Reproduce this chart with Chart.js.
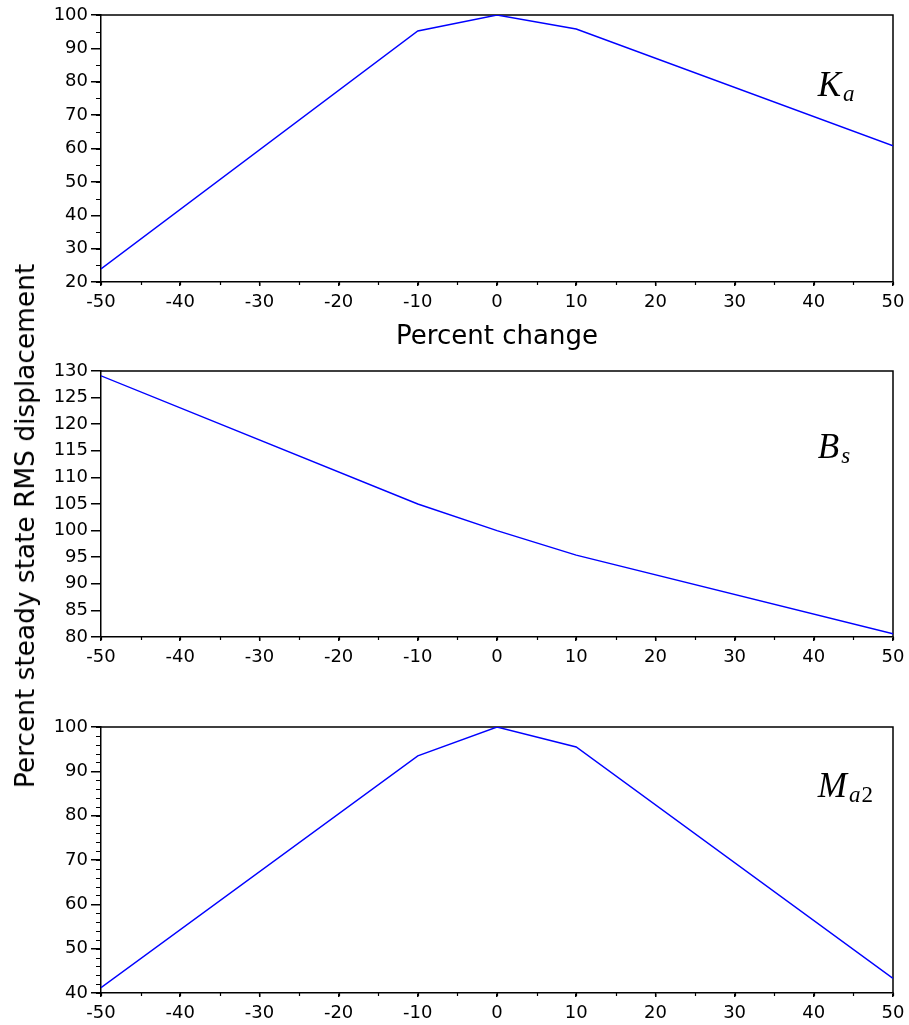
<!DOCTYPE html>
<html>
<head>
<meta charset="utf-8">
<script src="https://cdn.jsdelivr.net/npm/chart.js@4.4.1/dist/chart.umd.min.js"></script>
<style>
  html, body { margin: 0; padding: 0; background: #fff; }
  #wrap { position: relative; width: 909px; height: 1025px; }
  #wrap canvas { position: absolute; left: 0; }
  #ylabel {
    position: absolute; left: 24.5px; top: 526px;
    transform: translate(-50%, -50%) rotate(-90deg);
    font-family: 'DejaVu Sans'; font-size: 26.4px; line-height: 26px;
    white-space: nowrap; color: #000;
  }
</style>
</head>
<body>
<div id="wrap">
  <canvas id="c1" width="909" height="354" style="top:0px"></canvas>
  <canvas id="c2" width="909" height="340" style="top:350px"></canvas>
  <canvas id="c3" width="909" height="335" style="top:690px"></canvas>
  <div id="ylabel">Percent steady state RMS displacement</div>
</div>
<script>
// valores (percentual de variação do parâmetro)
const percentChange = [-50, -10, 0, 10, 50];
const kaValues  = [23.9, 95.2, 100, 95.8, 60.8];
const bsValues  = [129.1, 105.0, 100, 95.4, 80.6];
const ma2Values = [41.2, 93.5, 100, 95.5, 43.3];

const xTitle = 'Percent change';

const tickFont = { family: 'DejaVu Sans', size: 18 };

// moldura (topo e direita) + ticks menores
const frameAndMinor = {
  id: 'frameAndMinor',
  beforeDatasetsDraw(chart, args, opts) {
    const { ctx, chartArea, scales } = chart;
    ctx.save();
    ctx.strokeStyle = '#000';
    ctx.lineWidth = 1.5;
    ctx.beginPath();
    ctx.moveTo(chartArea.left, chartArea.top);
    ctx.lineTo(chartArea.right, chartArea.top);
    ctx.lineTo(chartArea.right, chartArea.bottom);
    ctx.stroke();

    ctx.lineWidth = 1.2;
    ctx.beginPath();
    if (opts.xStep) {
      for (let v = scales.x.min; v <= scales.x.max + 1e-9; v += opts.xStep) {
        const px = Math.round(scales.x.getPixelForValue(v)) + 0.5;
        ctx.moveTo(px, chartArea.bottom);
        ctx.lineTo(px, chartArea.bottom + 3);
      }
    }
    if (opts.yStep) {
      for (let v = scales.y.min; v <= scales.y.max + 1e-9; v += opts.yStep) {
        const py = Math.round(scales.y.getPixelForValue(v)) + 0.5;
        ctx.moveTo(chartArea.left, py);
        ctx.lineTo(chartArea.left - 5, py);
      }
    }
    ctx.stroke();
    ctx.restore();
  }
};

// rótulo do parâmetro (K_a, B_s, M_a2)
const paramLabel = {
  id: 'paramLabel',
  afterDraw(chart, args, opts) {
    const { ctx, scales } = chart;
    const x = scales.x.getPixelForValue(opts.x);
    const y = scales.y.getPixelForValue(opts.y);
    ctx.save();
    ctx.fillStyle = '#000';
    ctx.textBaseline = 'alphabetic';
    ctx.font = 'italic 35px "Liberation Serif"';
    ctx.fillText(opts.main, x, y);
    let cx = x + ctx.measureText(opts.main).width + 2;
    ctx.font = 'italic 23px "Liberation Serif"';
    ctx.fillText(opts.sub, cx, y + 5);
    if (opts.sub2) {
      cx += ctx.measureText(opts.sub).width + 1;
      ctx.font = '23px "Liberation Serif"';
      ctx.fillText(opts.sub2, cx, y + 5);
    }
    ctx.restore();
  }
};

function makeChart(id, values, yMin, yMax, yMajor, yMinor, padTop, xHeight, label, withTitle) {
  const pontos = percentChange.map((x, i) => ({ x: x, y: values[i] }));
  return new Chart(document.getElementById(id), {
    type: 'line',
    data: {
      datasets: [{
        data: pontos,
        borderColor: '#0000ff',
        borderWidth: 1.4,
        pointRadius: 0,
        fill: false,
        tension: 0
      }]
    },
    options: {
      responsive: false,
      animation: false,
      layout: { padding: { top: padTop, right: 16, left: 0, bottom: 0 } },
      plugins: {
        legend: { display: false },
        tooltip: { enabled: false },
        frameAndMinor: { xStep: 5, yStep: yMinor },
        paramLabel: label
      },
      scales: {
        x: {
          type: 'linear',
          min: -50, max: 50,
          afterFit: (s) => { s.height = xHeight; },
          ticks: { stepSize: 10, color: '#000', font: { family: 'DejaVu Sans', size: 18, lineHeight: 1.6 }, padding: 2 },
          grid: { drawOnChartArea: false, drawTicks: true, tickLength: 4, color: '#000', lineWidth: 1.5 },
          border: { display: true, color: '#000', width: 1.5 },
          title: {
            display: withTitle,
            text: xTitle,
            color: '#000',
            font: { family: 'DejaVu Sans', size: 26 },
            padding: { top: 0, bottom: 1 }
          }
        },
        y: {
          min: yMin, max: yMax,
          afterFit: (s) => { s.width = 101; },
          ticks: { stepSize: yMajor, color: '#000', font: tickFont, padding: 3 },
          grid: { drawOnChartArea: false, drawTicks: true, tickLength: 10, color: '#000', lineWidth: 1.5 },
          border: { display: true, color: '#000', width: 1.5 }
        }
      }
    },
    plugins: [frameAndMinor, paramLabel]
  });
}

makeChart('c1', kaValues, 20, 100, 10, 5, 15, 72,
  { main: 'K', sub: 'a', x: 40.5, y: 75.7 }, true);
makeChart('c2', bsValues, 80, 130, 5, null, 21, 53,
  { main: 'B', sub: 's', x: 40.5, y: 113.6 }, false);
makeChart('c3', ma2Values, 40, 100, 10, 2, 37, 32,
  { main: 'M', sub: 'a', sub2: '2', x: 40.5, y: 84.1 }, false);
</script>
</body>
</html>
